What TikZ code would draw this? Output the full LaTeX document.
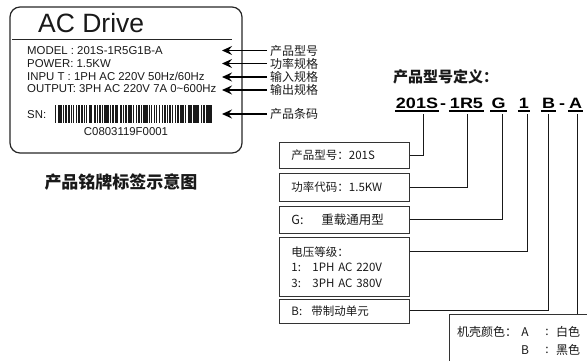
\documentclass[tikz,border=0pt]{standalone}
\usepackage{fontspec}
\setmainfont{Liberation Sans}
\newfontfamily\cjk{Noto Sans CJK SC}
\newfontfamily\codefont[FakeStretch=1.2]{Liberation Sans Bold}
\usetikzlibrary{arrows.meta}
\begin{document}
\begin{tikzpicture}[x=1pt,y=-1pt,
  lbl/.style={font=\fontsize{11.4}{13}\selectfont, anchor=west, inner sep=0pt, text=black!90},
  tag/.style={font=\cjk\fontsize{12}{14}\selectfont, anchor=west, inner xsep=3pt, inner ysep=0pt, text=black!90},
  ptr/.style={-{Stealth[length=10pt,width=9pt,inset=3.5pt]}, line width=1.5pt},
  defbox/.style={draw=black!80, line width=0.9pt, anchor=north west, text width=106pt, inner xsep=12pt, inner ysep=0pt, align=left, font=\cjk\fontsize{11.5}{15.5}\selectfont, text=black!90},
  seg/.style={font=\codefont\fontsize{15}{17}\selectfont, inner sep=0pt, anchor=base},
  ul/.style={line width=2pt},
  link/.style={line width=1pt, draw=black!90},
  coltxt/.style={font=\cjk\fontsize{12}{14}\selectfont, inner sep=0pt, text=black!90}]
\useasboundingbox (0,0) rectangle (587,360);
\clip (0,0) rectangle (587,360);

% ---- name plate ----
\draw[line width=1.2pt, rounded corners=10pt, draw=black!85] (10,7) rectangle (242,153);
\node[anchor=base west, inner sep=0pt, font=\fontsize{26.5}{30}\selectfont, text=black!90] (acdrive) at (38,32) {AC Drive};
\draw[line width=1pt, black!85] (12,39) -- (232,39);
\node[lbl] (model) at (27,51) {MODEL : 201S-1R5G1B-A};
\node[lbl] (power) at (27,63.5) {POWER:\ 1.5KW};
\node[lbl] (input) at (27,76.5) {INPU T : 1PH AC 220V\ 50Hz/60Hz};
\node[lbl] (output) at (27,89) {OUTPUT: 3PH AC 220V\ 7A\ 0{\char"007E}600Hz};
\node[lbl] (sn) at (27,115) {SN:};
\pgfmathsetseed{12}
\foreach \i in {0,...,60}{
  \pgfmathsetmacro\w{0.2+0.5*random(1,4)}
  \fill[black!90] (55+2.6*\i,105) rectangle +(\w,18);
}
\node[lbl, anchor=center] (sncode) at (126,132) {C0803119F0001};
\node[font=\cjk\bfseries\fontsize{17}{20}\selectfont, inner sep=0pt, text=black!90] (caption) at (121,182) {产品铭牌标签示意图};

% ---- pointer labels ----
\node[tag] (t1) at (267,50.5) {产品型号};
\node[tag] (t2) at (267,63.5) {功率规格};
\node[tag] (t3) at (267,77) {输入规格};
\node[tag] (t4) at (267,90) {输出规格};
\node[tag] (t5) at (267,114) {产品条码};
\coordinate (a1) at (222,50.5);
\coordinate (a2) at (222,63.5);
\coordinate (a3) at (222,77);
\coordinate (a4) at (222,90);
\coordinate (a5) at (222,114);
\foreach \k in {1,...,5}{\draw[ptr] (t\k.west) -- (a\k);}

% ---- model code definition ----
\node[anchor=west, inner sep=0pt, font=\cjk\bfseries\fontsize{15}{18}\selectfont, text=black!90] (deftitle) at (393,77) {产品型号定义：};
\node[seg] (s1) at (417,108) {201S};
\node[seg] (h1) at (443,108) {-};
\node[seg] (s2) at (466.5,108) {1R5};
\node[seg] (s3) at (498.5,108) {G};
\node[seg] (s4) at (524,108) {1};
\node[seg] (s5) at (548.5,108) {B};
\node[seg] (h2) at (562,108) {-};
\node[seg] (s6) at (575.5,108) {A};
\foreach \s in {s1,s2,s3,s4,s5,s6}{
  \draw[ul] ([shift={(-1pt,-2.5pt)}]\s.base west) -- ([shift={(1pt,-2.5pt)}]\s.base east);
}
\coordinate (c1) at (423,114);
\coordinate (c2) at (467,114);
\coordinate (c3) at (502,114);
\coordinate (c4) at (527,114);
\coordinate (c5) at (548,114);
\coordinate (c6) at (577,114);

\node[defbox, minimum height=26pt] (b1) at (279,142) {产品型号：201S};
\node[defbox, minimum height=28pt] (b2) at (279,173) {功率代码：1.5KW};
\node[defbox, minimum height=27pt, font=\cjk\fontsize{12.5}{14}\selectfont] (b3) at (279,206) {\makebox[30pt][l]{G:}重载通用型};
\node[defbox, minimum height=59pt] (b4) at (279,237) {电压等级：\\\makebox[21pt][l]{1:}1PH AC 220V\\\makebox[21pt][l]{3:}3PH AC 380V};
\node[defbox, minimum height=24pt] (b5) at (279,299) {\makebox[20pt][l]{B:}带制动单元};
\node[draw=black!80, line width=0.9pt, anchor=north west, minimum width=160pt, minimum height=60pt, inner sep=0pt] (b6) at (449,314) {};

\draw[link] (b1.east) -| (c1);
\draw[link] (b2.east) -| (c2);
\draw[link] (b3.east) -| (c3);
\draw[link] ([yshift=15.5pt]b4.east) -| (c4);
\draw[link] ([yshift=1pt]b5.east) -| (c5);
\draw[link] (c6) -- (c6 |- b6.north);

\node[coltxt, anchor=west] (k1) at (457,332) {机壳颜色：};
\node[coltxt] (kA) at (525,332) {A};
\node[coltxt] (kc1) at (547,332) {:};
\node[coltxt, anchor=west] (kw) at (556,332) {白色};
\node[coltxt] (kB) at (525,350) {B};
\node[coltxt] (kc2) at (547,350) {:};
\node[coltxt, anchor=west] (kk) at (556,350) {黑色};
\end{tikzpicture}
\end{document}
